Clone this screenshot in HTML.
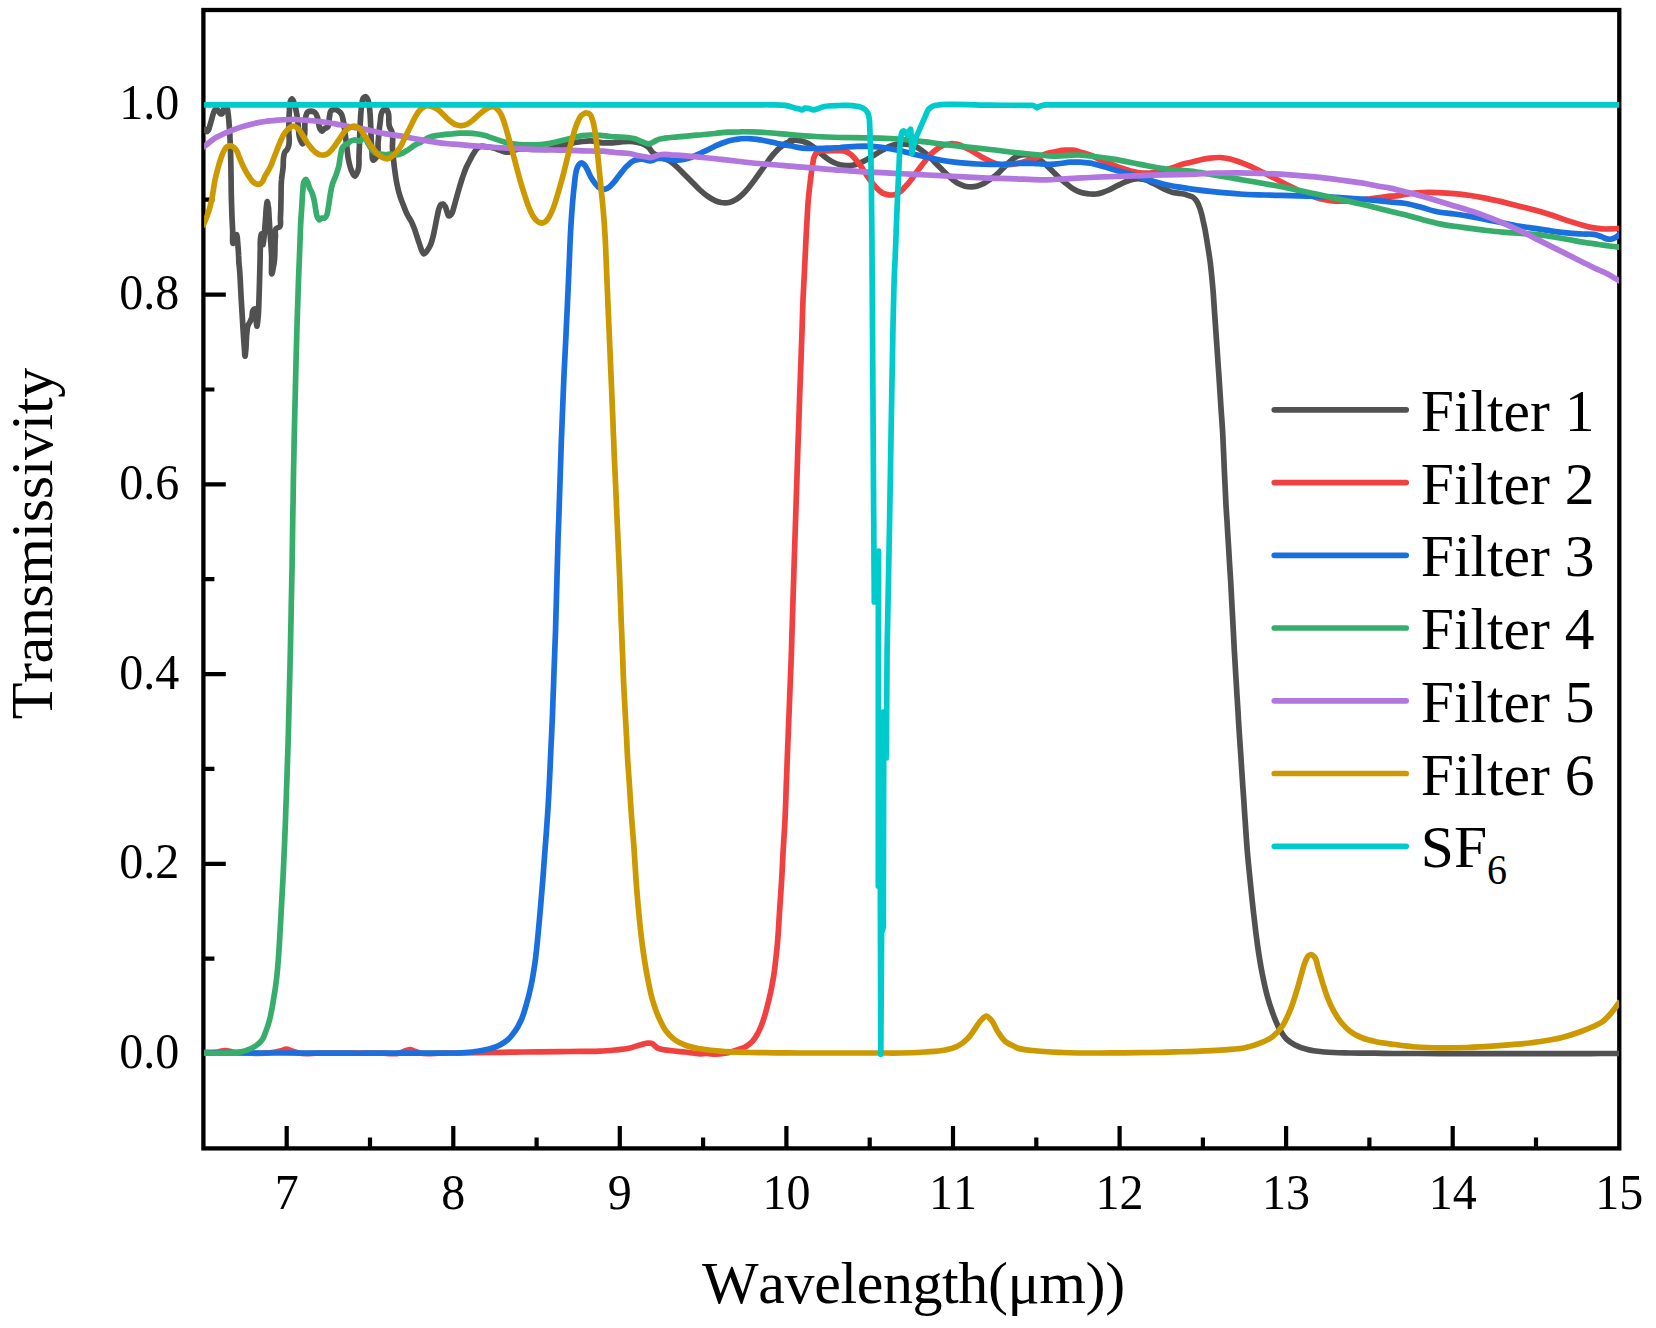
<!DOCTYPE html>
<html lang="en"><head><meta charset="utf-8"><title>Filter transmissivity</title>
<style>
html,body{margin:0;padding:0;background:#fff;}
body{width:1656px;height:1328px;overflow:hidden;}
svg{display:block;}
text{font-family:"Liberation Serif","Times New Roman",Times,serif;fill:#000;font-kerning:none;font-variant-ligatures:none;}
.tk{font-size:48px;}
.ti{font-size:60px;letter-spacing:-0.4px;}
.lt{font-size:59.6px;}
.cv{fill:none;stroke-width:5.7;stroke-linejoin:round;stroke-linecap:butt;}
.lg{fill:none;stroke-width:5.7;stroke-linecap:round;}
.ax{stroke:#000;stroke-width:4.3;fill:none;stroke-linecap:butt;}
</style></head><body>
<svg width="1656" height="1328" viewBox="0 0 1656 1328">
<rect width="1656" height="1328" fill="#fff"/>
<defs><clipPath id="plot"><rect x="204.1" y="10" width="1414.9" height="1138.4"/></clipPath></defs>
<rect class="ax" x="203.4" y="10" width="1415.9" height="1138.4"/>
<path class="ax" style="stroke-width:4.2" d="M203.4 1053.5H225.8M203.4 863.8H225.8M203.4 674.1H225.8M203.4 484.3H225.8M203.4 294.6H225.8M203.4 104.9H225.8M203.4 958.7H214.4M203.4 768.9H214.4M203.4 579.2H214.4M203.4 389.5H214.4M203.4 199.7H214.4M286.7 1148.4V1126M453.3 1148.4V1126M619.8 1148.4V1126M786.4 1148.4V1126M953 1148.4V1126M1119.6 1148.4V1126M1286.1 1148.4V1126M1452.7 1148.4V1126M370 1148.4V1137.5M536.6 1148.4V1137.5M703.1 1148.4V1137.5M869.7 1148.4V1137.5M1036.3 1148.4V1137.5M1202.9 1148.4V1137.5M1369.4 1148.4V1137.5M1536 1148.4V1137.5"/>
<g clip-path="url(#plot)">
<path class="cv" stroke="#515151" d="M203.5 127.7C204.2 128.6 204.7 129.7 205.5 130.5C206 130.9 206.5 131.6 207 131.6C207.5 131.6 208.1 130.6 208.5 130C209.1 129.1 209.2 128 209.5 127C210.2 124.7 210.8 122.3 211.5 120C212.2 117.7 212.6 115.2 213.5 113C214 111.8 214.3 110.4 215.2 109.6C215.6 109.3 216.1 108.8 216.5 108.8C217.2 108.7 217.7 110.3 218.3 111C219 111.8 219.3 113.1 220.2 113.6C220.6 113.8 221.2 114 221.6 114C222.5 113.9 222.6 112 223 111C223.5 109.8 223.7 108.5 224.4 107.5C224.8 107 225.4 106 225.8 106C226.2 106 226.7 107.2 227 107.8C227.8 109.3 227.7 111.3 228 113C228.6 117 228.9 121 229.2 125C229.7 130.8 229.9 136.7 230.2 142.5C230.5 148.9 230.7 155.2 230.8 161.6C230.9 167.7 231 173.9 231.1 180C231.2 186.3 231.2 192.6 231.4 198.8C231.6 205.1 231.8 211.4 232 217.7C232.2 222.3 232.5 226.9 232.7 231.5C232.8 235.5 232.2 243.7 233.2 243.4C233.9 243.2 236 234.3 236.7 234.6C237.4 234.9 237.4 240.1 237.7 242.8C238.1 247 238.4 251.2 238.6 255.4C238.8 257.9 238.7 260.5 238.9 263C239.1 264.5 239.2 266 239.4 267.5C240.3 277.9 240.6 288.3 241.2 298.8C241.9 309.2 242.5 319.6 243.1 330C243.5 336.3 243.9 342.5 244.4 348.8C244.6 351.3 244.8 356.2 245 356.2C245.3 356.3 245.6 351.3 245.9 348.8C246.4 343.4 246.2 337.9 246.9 332.5C247.2 330 247.1 327.3 248.1 325C248.6 323.9 249.4 322.9 250 321.9C250.7 320.5 251.4 319 251.9 317.5C252.6 315.3 251.6 312.5 252.9 310.6C253.3 310 253.9 309.3 254.4 309C256 307.9 255.6 314.6 256 317.5C256.4 320.4 256.5 326.2 256.9 326.2C257.2 326.3 257.8 320.4 258.1 317.5C258.6 313.4 258.6 309.2 258.8 305C259 298.8 259.2 292.5 259.4 286.2C259.6 278.5 259.8 270.8 260 263C260.1 258.4 260.1 253.7 260.3 249.1C260.4 244.9 259.9 240.6 260.8 236.5C261 235.7 261.2 234.6 261.4 234.1C262.3 232 262.5 245.1 263 244.7C263.4 244.3 263.7 239.2 264.1 236.5C264.8 230.3 265.1 224 265.6 217.7C266 213.5 265.9 209.3 266.6 205.1C266.8 204 266.9 201.7 267.2 201.7C267.5 201.6 267.9 204 268.1 205.1C269.1 209.2 268.8 213.5 269.1 217.7C269.5 224 269.9 230.2 270.3 236.5C270.8 242.8 271.3 249.1 271.6 255.4C271.8 261.5 271.1 275.2 271.9 273.8C272.4 272.9 273.5 266.6 274.1 263C275.5 254.3 274.5 245.3 275.4 236.5C275.6 233.8 274.4 229.9 276.3 228.4C277.1 227.7 278.6 227.6 279.4 227C281.6 225.2 280.1 220.8 280.4 217.7C280.9 211.4 280.8 205.1 281 198.8C281.2 192.6 280.9 186.2 281.5 180C281.8 175.8 282.7 171.7 283.1 167.5C283.5 163.3 282.9 159 284 155C284.3 153.9 284.5 152.8 285 151.9C285.5 151.1 286.3 150.5 286.9 149.8C287.4 149.1 287.8 148.3 288.1 147.5C290.6 142.3 288.5 135.8 288.8 130C289 123.8 288.8 117.5 289.4 111.2C289.7 107.7 288.9 103.7 290.6 100.6C291 100 291.5 98.8 291.9 98.8C292.4 98.6 293.1 100.4 293.5 101.2C294.3 102.8 294.5 104.6 295 106.2C295.5 107.9 295.9 109.6 296.2 111.2C297.2 115.4 297.5 119.6 298.1 123.8C298.8 128.7 298.2 134.1 300 138.8C300.7 140.5 301.8 143.5 302.5 143.8C303.4 144 303.9 138.8 304.4 136.2C305.6 130.1 303.9 123.5 305.6 117.5C306.1 115.7 306.2 113.3 307.5 112.2C308.4 111.6 310 111.2 311.2 111.2C312.5 111.3 314 111.8 315 112.5C316.4 113.5 316.8 115.8 317.5 117.5C318.9 121 318 125.5 320 128.8C320.5 129.6 321.2 131.2 321.9 131.2C322.6 131.4 323.4 129.4 324.4 128.8C325.3 128.1 326.7 127.9 327.5 127.2C329.9 125.3 328.6 120.7 329.4 117.5C329.9 115.2 329.6 111.9 331.2 110.6C332.2 109.9 333.8 109.3 335 109.4C336.3 109.5 337.6 110.4 338.8 111.2C339.7 111.9 340.6 112.8 341.2 113.8C342.5 115.5 342.6 117.9 343.1 120C344.1 124.1 344.4 128.3 345 132.5C345.7 137.5 346.2 142.5 346.9 147.5C347.5 152.1 347.7 156.7 348.8 161.2C349.4 164.2 350 167.3 351.2 170C352.2 172.2 353.8 176.5 355 176.2C355.9 176 357 173 357.8 171.2C359.8 166.3 358.7 160.4 359 155C359.7 144.6 359.5 134.1 360.2 123.8C360.7 117.5 360.6 111.1 361.9 105C362.4 102.5 361.8 98.9 363.8 97.5C364.3 97.1 365.1 96.6 365.6 96.6C366.4 96.7 367 98 367.5 98.8C369.1 101.2 368.9 104.6 369.4 107.5C370.3 112.8 370.3 118.3 370.6 123.8C371.2 132.1 370.8 140.5 371.9 148.8C372.4 152.5 371.6 161.2 373.8 160C374.4 159.6 375.5 158.4 376.2 157.5C379.3 153.7 377.6 147.5 378.1 142.5C378.8 136.3 379 129.9 380 123.8C380.7 119.6 380.1 114.6 382.5 111.2C383.3 110.1 384.7 108.1 385.6 108.1C386.6 108.2 387.5 111 388.1 112.5C390.1 117 387.5 123.1 389.8 127.5C390.2 128.4 390.8 129.1 391.2 130C394.1 135.5 392 142.5 392.5 148.8C393 155 393.6 161.3 394.4 167.5C395.1 172.9 395.8 178.4 396.9 183.8C397.7 188 398.7 192.2 400 196.2C401.1 199.6 402.4 202.9 403.8 206.2C404.9 209.2 406 212.2 407.5 215C408.6 217.1 410.1 219.1 411.2 221.2C412.5 223.7 413.4 226.2 414.4 228.8C415.3 231.2 416 233.8 416.9 236.2C417.7 238.8 418.4 241.3 419.4 243.8C420.7 247.2 421.9 253.6 423.8 253.8C425.5 253.8 428.5 248.9 430 246C431.2 243.8 431.8 241.2 432.5 238.8C433.6 235.1 434.2 231.3 435 227.5C435.9 223.3 436.5 219.1 437.5 215C438.1 212.5 438.3 209.8 439.4 207.5C439.9 206.4 440.2 204.8 441.2 204.4C441.8 204.1 442.6 204 443.1 204.1C443.9 204.3 444.5 205.5 445 206.2C446 207.7 446.2 209.6 446.9 211.2C447.5 212.9 447.8 216.1 449 216C449.6 215.9 450.6 215 451.2 214.4C452.9 212.7 453 209.8 453.8 207.5C454.7 204.6 455.4 201.7 456.2 198.8C457.3 195 458.3 191.2 459.4 187.5C460.4 184.2 461.4 180.8 462.5 177.5C463.7 174.1 464.8 170.7 466.2 167.5C467.4 164.9 468.7 162.5 470 160C471.2 157.7 472.3 155.3 473.8 153.1C474.9 151.4 475.9 149.4 477.5 148.1C478.6 147.3 479.9 146.5 481.2 146.2C482.4 146 483.8 146.5 485 146.6C486.7 146.8 488.3 147 490 147.2C491.7 147.5 493.4 147.9 495 148.4C496.3 148.8 497.5 149.3 498.8 149.8C500 150.2 501.2 150.8 502.5 151.2C503.7 151.7 505 152.2 506.2 152.2C507.5 152.3 508.8 152 510 151.8C511.7 151.4 513.3 150.5 515 150C516.6 149.6 518.3 149.2 520 149C522.5 148.7 525 149.1 527.5 149.1C531.7 149.2 535.8 149.6 540 149.5C543.3 149.5 546.8 149.7 550 149C552.1 148.5 554.2 147.5 556.2 146.9C557.5 146.5 558.7 146.1 560 145.8C562.5 145.1 565 144.9 567.5 144.4C570 143.8 572.5 143 575 142.5C577.5 142 580 141.8 582.5 141.5C585 141.2 587.5 140.9 590 140.9C594.2 140.9 598.3 142.5 602.5 142.8C605.8 143 609.2 142.9 612.5 142.8C615.4 142.6 618.3 142.1 621.2 141.9C624.2 141.7 627.1 141.4 630 141.5C632.5 141.6 635 142 637.5 142.5C639.6 143 641.8 143.5 643.8 144.4C645.5 145.2 647.3 146.2 648.8 147.5C650.3 148.9 651 151.1 652.5 152.5C654.6 154.5 657.4 155.5 660 156.9C663.2 158.5 667 159.3 670 161.2C672.7 163 675.1 165.3 677.5 167.5C680.1 169.9 682.5 172.5 685 175C687.5 177.5 690 180 692.5 182.5C695 185 697.4 187.6 700 190C702.4 192.2 704.8 194.4 707.5 196.2C709.9 197.9 712.3 199.5 715 200.6C717 201.5 719.1 202.1 721.2 202.5C722.5 202.7 723.8 202.9 725 202.9C726.7 202.9 728.4 202.7 730 202.2C732.2 201.7 734.3 200.6 736.2 199.4C738.5 198 740.6 196.2 742.5 194.4C744.8 192.3 746.8 189.9 748.8 187.5C750.9 184.9 753 182.1 755 179.4C757.1 176.5 759.2 173.5 761.2 170.6C763.3 167.7 765.4 164.8 767.5 161.9C769.5 159.1 771.5 156.3 773.8 153.8C775.7 151.6 777.7 149.4 780 147.5C782 145.9 784 144.2 786.2 143.1C788.2 142.2 793.5 141.4 792.5 141C792.1 140.8 790.4 140.7 790 140.6C789.1 140.4 794.2 140.1 796.2 140.2C798.3 140.4 800.5 140.7 802.5 141.2C804.7 141.8 806.8 142.7 808.8 143.8C811 144.9 813 146.6 815 148.1C817.2 149.9 819.1 151.9 821.2 153.8C823.3 155.5 825.3 157.2 827.5 158.8C829.5 160.1 831.6 161.5 833.8 162.5C835.7 163.4 837.9 164.2 840 164.8C842 165.2 844.2 165.5 846.2 165.6C848.3 165.7 850.5 165.6 852.5 165.2C854.6 164.9 856.7 164.2 858.8 163.5C860.9 162.7 863 161.7 865 160.6C867.1 159.5 869.2 158.1 871.2 156.9C873.3 155.6 875.4 154.4 877.5 153.1C879.6 151.9 881.6 150.5 883.8 149.4C885.8 148.3 887.8 147.1 890 146.2C892 145.5 894.1 144.8 896.2 144.4C898.3 144 900.4 143.8 902.5 143.8C904.6 143.8 906.7 144 908.8 144.4C910.9 144.8 913 145.4 915 146.2C917.2 147.2 919.3 148.6 921.2 150C923.4 151.5 925.5 153.2 927.5 155C929.7 157 931.7 159.2 933.8 161.2C935.8 163.3 937.9 165.4 940 167.5C942.1 169.6 944.1 171.7 946.2 173.8C948.3 175.7 950.3 177.6 952.5 179.4C954.5 180.9 956.5 182.6 958.8 183.8C960.7 184.8 962.8 185.7 965 186.2C967 186.7 969.2 186.9 971.2 186.9C973.3 186.8 975.5 186.5 977.5 186C979.7 185.4 981.8 184.5 983.8 183.5C986 182.4 987.9 180.8 990 179.4C992.1 177.9 994.3 176.6 996.2 175C998.5 173.1 1000.4 170.8 1002.5 168.8C1004.6 166.7 1006.6 164.5 1008.8 162.5C1010.7 160.7 1012.7 158.8 1015 157.5C1016.9 156.4 1019.1 155.4 1021.2 155C1023.3 154.6 1025.4 154.6 1027.5 154.8C1029.6 155 1031.8 155.5 1033.8 156.2C1036 157.1 1038 158.6 1040 160C1042.2 161.5 1044.3 163.2 1046.2 165C1048.4 167 1050.4 169.2 1052.5 171.2C1054.6 173.3 1056.6 175.5 1058.8 177.5C1060.7 179.3 1062.9 180.8 1065 182.5C1067.1 184.2 1069.1 186 1071.2 187.5C1073.2 188.9 1075.3 190.3 1077.5 191.2C1079.5 192.1 1081.6 192.7 1083.8 193.1C1085.8 193.6 1087.9 193.9 1090 194C1092.1 194.1 1094.2 194.2 1096.2 194C1098.4 193.8 1100.5 193.1 1102.5 192.5C1104.6 191.8 1106.7 190.9 1108.8 190C1110.9 189 1112.9 187.9 1115 186.9C1117.1 185.8 1119.1 184.7 1121.2 183.8C1123.3 182.8 1125.4 181.8 1127.5 181C1129.5 180.3 1131.6 179.5 1133.8 179.1C1135.8 178.8 1137.9 178.6 1140 178.8C1142.1 178.9 1144.3 179.3 1146.2 180C1148.4 180.7 1150.4 182.1 1152.5 183.1C1154.6 184.2 1156.7 185.2 1158.8 186.2C1160.8 187.3 1162.9 188.4 1165 189.4C1167 190.3 1169.1 191.2 1171.2 191.9C1173.3 192.5 1175.4 192.8 1177.5 193.1C1179.6 193.5 1181.7 193.5 1183.8 194C1185.4 194.4 1187.1 195.1 1188.8 195.6C1190 196 1191.4 196.2 1192.5 196.9C1193.7 197.6 1194.7 198.7 1195.6 199.8C1196.8 201.1 1197.6 202.8 1198.4 204.4C1199.6 206.9 1200.4 209.7 1201.2 212.5C1202.1 215.4 1202.6 218.3 1203.2 221.2C1203.9 224.2 1204.6 227.1 1205.1 230C1205.8 233.7 1206.4 237.5 1207 241.2C1208.1 248.2 1209.3 255.1 1210.2 262C1211.4 271.3 1212.2 280.7 1213 290C1213.6 297.2 1214 304.4 1214.5 311.7C1215 318.9 1215.5 326.1 1216 333.3C1216.5 340.6 1217 347.8 1217.5 355C1217.9 361.2 1218.3 367.5 1218.8 373.8C1219.2 380 1219.6 386.2 1220 392.5C1220.4 398.8 1220.8 405 1221.2 411.2C1221.7 417.5 1222.1 423.7 1222.5 430C1222.9 436.2 1223.1 442.5 1223.4 448.8C1223.7 455 1224 461.2 1224.2 467.5C1224.5 473.8 1224.8 480 1225.1 486.2C1225.4 492.5 1225.7 498.8 1226 505C1226.3 511.3 1226.8 517.5 1227.2 523.8C1227.5 530 1227.9 536.2 1228.3 542.5C1228.7 548.8 1229.1 555 1229.4 561.2C1229.8 567.5 1230.2 573.7 1230.6 580C1231 586.2 1231.3 592.5 1231.6 598.8C1231.9 605 1232.3 611.2 1232.6 617.5C1232.9 623.8 1233.3 630 1233.6 636.2C1233.9 642.5 1234.2 648.8 1234.6 655C1235 661.3 1235.3 667.5 1235.7 673.8C1236.1 680 1236.5 686.2 1236.8 692.5C1237.2 698.8 1237.6 705 1238 711.2C1238.3 717.5 1238.7 723.8 1239.1 730C1239.6 738.3 1240.2 746.7 1240.8 755C1241.3 763.3 1241.8 771.7 1242.4 780C1242.8 786.7 1243.3 793.3 1243.8 800C1244.2 806.7 1244.6 813.3 1245.1 820C1245.8 830 1246.4 840 1247.2 850C1248.2 861.7 1249.4 873.3 1250.6 885C1251.6 895 1252.6 905 1253.8 915C1254.9 925 1256.1 935 1257.5 945C1258.8 954.2 1260.2 963.4 1262 972.5C1263.5 980 1265 987.6 1267 995C1268.6 1000.9 1270.4 1006.8 1272.5 1012.5C1274.4 1017.6 1276.2 1022.8 1278.8 1027.5C1280.9 1031.4 1283.1 1035.6 1286.2 1038.8C1288.8 1041.2 1291.9 1043.3 1295 1045C1298.9 1047.1 1303.2 1048.4 1307.5 1049.5C1313.2 1051 1319.1 1051.4 1325 1052C1333.3 1052.8 1341.7 1052.8 1350 1053C1358.3 1053.2 1366.7 1053.2 1375 1053.2C1383.3 1053.3 1391.7 1053.5 1400 1053.5C1406.7 1053.5 1413.3 1053.5 1420 1053.5C1426.7 1053.6 1433.3 1053.6 1440 1053.6C1446.7 1053.6 1453.3 1053.6 1460 1053.6C1466.7 1053.6 1473.3 1053.6 1480 1053.7C1486.7 1053.7 1493.3 1053.7 1500 1053.7C1506.7 1053.7 1513.3 1053.7 1520 1053.7C1526.7 1053.7 1533.3 1053.6 1540 1053.6C1546.7 1053.6 1553.3 1053.6 1560 1053.6C1566.7 1053.6 1573.3 1053.6 1580 1053.6C1586.7 1053.6 1593.3 1053.5 1600 1053.5C1606.7 1053.5 1613.3 1053.5 1620 1053.5"/>
<path class="cv" stroke="#F14040" d="M202.5 1052.5C207.5 1052.3 212.6 1052.7 217.5 1052C220 1051.6 222.5 1050.5 225 1050.5C227.7 1050.5 230.3 1051.6 233 1052C237 1052.6 241 1052.8 245 1053C254.6 1053.5 264.3 1053.8 273.8 1052.2C276.3 1051.8 278.8 1051.5 281.2 1050.8C282.9 1050.3 284.6 1049 286.2 1049C287.9 1049 289.6 1050.2 291.2 1050.8C293.7 1051.6 296.2 1052.5 298.8 1053C305.3 1054.4 312.2 1053 319 1053C325.8 1053 332.5 1053 339.2 1053C346 1053 352.8 1053 359.5 1053C366.2 1053 373 1053 379.8 1053C386.5 1053 393.6 1054.9 400 1053C402.1 1052.4 404.1 1051.2 406.2 1050.5C407.5 1050.1 408.8 1049.4 410 1049.5C411.3 1049.6 412.5 1050.5 413.8 1051C415.8 1051.8 417.9 1052.5 420 1053C427.2 1054.8 435 1053 442.5 1053C450 1053 457.5 1053.1 465 1053C473.3 1052.9 481.7 1052.6 490 1052.5C498.3 1052.4 506.7 1052.2 515 1052.1C523.3 1052 531.7 1051.8 540 1051.8C546.7 1051.7 553.3 1051.6 560 1051.6C566.7 1051.5 573.3 1051.5 580 1051.4C586.7 1051.4 593.3 1051.6 600 1051.2C605 1051 610 1050.5 615 1050C620 1049.5 625.1 1049.1 630 1048C633.4 1047.2 636.6 1045.9 640 1045C642.5 1044.4 645 1043.4 647.5 1043.2C648.7 1043.2 650.1 1043 651.2 1043.2C653.7 1043.8 655.2 1046.8 657.5 1048C661.2 1049.9 665.8 1049.9 670 1050.5C675 1051.3 680 1051.5 685 1052C690 1052.5 695 1053.7 700 1053.8C702.1 1053.8 704.2 1053.5 706.3 1053.5C709.4 1053.5 712.6 1054.1 715.7 1054.1C718.8 1054.1 722 1053.7 725.1 1053.2C728.1 1052.7 731 1051.8 733.9 1051C736.4 1050.3 739 1049.5 741.5 1048.5C743.6 1047.6 745.8 1046.6 747.7 1045.3C749.5 1044.1 751.2 1042.5 752.8 1040.9C754.5 1039 755.9 1036.9 757.1 1034.7C758.9 1031.7 760.2 1028.4 761.5 1025.2C763.1 1021.1 764.4 1016.9 765.6 1012.7C766.8 1008.5 767.8 1004.3 768.8 1000.1C769.8 995.9 770.8 991.8 771.6 987.6C772.4 983.4 773.2 979.2 773.8 975C774.6 970 775.1 965 775.7 960C776.3 955 776.8 950 777.3 945C778.3 934.2 778.8 923.3 779.5 912.5C780.2 902.5 780.9 892.5 781.5 882.5C782.2 871.7 782.6 860.8 783.2 850C783.8 840 784.5 830 785 820C785.3 813.3 785.5 806.7 785.8 800C786 793.3 786.2 786.7 786.5 780C786.8 773.3 787 766.7 787.2 760C787.5 753.3 787.7 746.7 788 740C788.3 733.2 788.5 726.3 788.8 719.5C789.1 712.7 789.4 705.8 789.6 699C789.9 692.2 790.2 685.3 790.4 678.5C790.7 671.7 791 664.8 791.2 658C791.5 651.6 791.6 645.2 791.8 638.8C792 632.4 792.2 626 792.4 619.6C792.6 613.2 792.8 606.8 793 600.4C793.2 594 793.4 587.6 793.6 581.2C793.8 574.8 794 568.4 794.2 562C794.4 554.8 794.7 547.7 794.9 540.5C795.1 533.3 795.4 526.2 795.6 519C795.8 511.8 796.1 504.7 796.3 497.5C796.5 490.3 796.8 483.2 797 476C797.2 469.7 797.4 463.5 797.6 457.2C797.8 451 798 444.8 798.2 438.5C798.5 432.2 798.7 426 798.9 419.8C799.1 413.5 799.3 407.2 799.5 401C799.7 394.7 799.9 388.5 800.2 382.2C800.4 376 800.6 369.8 800.9 363.5C801.1 357.2 801.3 351 801.5 344.8C801.8 338.5 802 332.3 802.2 326C802.5 316.5 802.7 307 803.1 297.5C803.5 289.2 804 280.8 804.4 272.5C804.8 264.2 805.2 255.8 805.6 247.5C806 239.2 806.4 230.8 806.9 222.5C807.4 214.2 807.7 205.8 808.5 197.5C809.1 191.2 809.8 185 810.6 178.8C811.3 173.7 811.9 168.7 812.8 163.8C813.3 161.2 813.3 158.5 814.4 156.2C815 154.9 815.7 153.4 816.9 152.5C817.7 151.8 818.9 151.3 820 151C822.3 150.2 825 150.9 827.5 150.9C829.6 150.8 831.7 150.7 833.8 150.6C835.8 150.6 837.9 150.5 840 150.6C841.7 150.7 843.4 150.8 845 151.2C846.8 151.8 848.5 152.7 850 153.8C851.9 155.1 853.4 157 855 158.8C856.8 160.7 858.4 162.9 860 165C861.8 167.4 863.3 170 865 172.5C866.7 175 868.2 177.6 870 180C871.6 182.1 873.2 184.3 875 186.2C876.6 188 878.1 189.9 880 191.2C881.5 192.4 883.2 193.4 885 194C886.6 194.6 888.3 194.9 890 195C891.7 195.1 893.4 194.8 895 194.4C896.8 193.9 898.5 192.9 900 191.9C901.9 190.6 903.4 188.6 905 186.9C906.7 185.1 908.4 183.2 910 181.2C911.8 179.1 913.3 176.7 915 174.4C916.7 172.1 918.3 169.8 920 167.5C921.6 165.4 923.3 163.3 925 161.2C926.7 159.2 928.2 156.9 930 155C931.6 153.4 933.2 151.8 935 150.4C936.6 149.1 938.2 148 940 147C941.6 146.1 943.3 145.3 945 144.8C946.6 144.2 948.3 143.9 950 143.8C951.2 143.6 952.5 143.6 953.8 143.8C955.4 143.9 957.1 144.3 958.8 144.8C960.9 145.4 962.9 146.5 965 147.5C967.1 148.5 969.2 149.5 971.2 150.6C973.4 151.8 975.4 153.1 977.5 154.4C979.6 155.6 981.6 157 983.8 158.1C985.8 159.2 987.9 160.3 990 161.2C992 162.2 994.1 163.1 996.2 163.8C998.3 164.3 1000.4 164.8 1002.5 165C1006.6 165.4 1010.9 164.7 1015 164C1019.2 163.3 1023.4 161.9 1027.5 160.6C1031.7 159.3 1035.8 157.7 1040 156.2C1042.9 155.2 1045.8 154 1048.8 153.1C1051.6 152.3 1054.6 151.7 1057.5 151.2C1060 150.8 1062.5 150.4 1065 150.2C1067.5 150.1 1070 150 1072.5 150.2C1075 150.5 1077.5 151.2 1080 151.9C1083.4 152.7 1086.7 153.8 1090 155C1094.3 156.6 1098.3 158.8 1102.5 160.6C1106.6 162.4 1110.8 164.1 1115 165.6C1119.1 167.2 1123.3 168.8 1127.5 170C1130.8 171 1134.1 172 1137.5 172.5C1140.4 172.9 1143.3 173.2 1146.2 173.1C1149.2 173.1 1152.1 172.7 1155 172.2C1158.4 171.7 1161.7 170.9 1165 170C1168.4 169.1 1171.7 168 1175 166.9C1178.3 165.8 1181.6 164.3 1185 163.5C1186.6 163.1 1188.3 162.9 1190 162.5C1193.4 161.8 1196.6 160.7 1200 160C1203.3 159.3 1206.6 158.5 1210 158.1C1213.3 157.7 1216.7 157.4 1220 157.5C1223.3 157.6 1226.7 158.2 1230 159C1233.4 159.8 1236.7 161.1 1240 162.2C1243.4 163.5 1246.7 164.8 1250 166.2C1253.4 167.7 1256.7 169.4 1260 171C1263.3 172.6 1266.7 174.3 1270 176C1273.4 177.7 1276.6 179.5 1280 181.2C1283.3 182.9 1286.7 184.6 1290 186.2C1293.3 187.9 1296.6 189.7 1300 191.2C1303.3 192.8 1306.6 194.4 1310 195.6C1313.3 196.8 1316.6 197.9 1320 198.8C1323.3 199.6 1326.6 200.2 1330 200.6C1333.3 201 1336.7 201.2 1340 201.2C1343.3 201.3 1346.7 201.2 1350 201C1353.3 200.8 1356.7 200.4 1360 200C1363.3 199.6 1366.7 199.2 1370 198.8C1373.3 198.3 1376.7 197.9 1380 197.5C1383.3 197.1 1386.7 196.6 1390 196.2C1392.1 196.1 1394.3 196 1396.4 195.8C1399.7 195.5 1402.8 194.7 1406.1 194.2C1411.4 193.5 1416.8 192.9 1422.1 192.6C1427.5 192.3 1432.8 192.4 1438.2 192.6C1443.5 192.8 1448.9 193.1 1454.3 193.6C1459.6 194 1465 194.7 1470.3 195.5C1475.7 196.3 1481 197.3 1486.4 198.4C1491.8 199.5 1497.1 200.7 1502.4 201.9C1507.8 203.2 1513.1 204.6 1518.5 205.9C1523.9 207.3 1529.2 208.5 1534.6 210C1540 211.4 1545.3 213 1550.6 214.8C1556 216.5 1561.3 218.6 1566.7 220.4C1572 222.1 1577.4 223.8 1582.8 225.2C1585.9 226.1 1589.1 227 1592.4 227.6C1595.6 228.2 1598.8 228.7 1602 228.9C1605.2 229.1 1608.5 229 1611.7 228.9C1614.9 228.8 1618.1 228.5 1621.3 228.3"/>
<path class="cv" stroke="#1A6FDF" d="M202.5 1053C209.4 1053 216.4 1053 223.3 1053C230.3 1053 237.2 1053 244.2 1053C251.1 1053 258.1 1053 265 1053C271.7 1053 278.3 1053 285 1053C291.7 1053.1 298.3 1053.1 305 1053.1C311.7 1053.1 318.3 1053.1 325 1053.2C331.7 1053.2 338.3 1053.2 345 1053.2C351.7 1053.2 358.3 1053.3 365 1053.2C372.3 1053.2 379.6 1053.2 386.9 1053.2C394.2 1053.2 401.5 1053.1 408.8 1053.1C416 1053.1 423.3 1053.1 430.6 1053.1C437.9 1053 445.2 1053.2 452.5 1053C456.7 1052.9 460.8 1052.8 465 1052.5C469.2 1052.2 473.4 1051.9 477.5 1051.2C481.7 1050.6 485.9 1049.9 490 1048.8C493.4 1047.8 496.9 1046.6 500 1045C502.6 1043.6 505.2 1041.9 507.5 1040C510.4 1037.5 512.8 1034.4 515 1031.2C517.5 1027.8 519.5 1023.9 521.2 1020C523.4 1015.2 524.8 1010 526.2 1005C528.2 998.4 529.8 991.7 531.2 985C532.8 977.6 533.9 970 535 962.5C536.3 953.4 537.1 944.2 538 935C538.9 925.8 539.7 916.7 540.5 907.5C541.3 898.3 542 889.2 542.8 880C543.5 870 544.2 860 545 850C545.8 840 546.6 830 547.2 820C547.9 810.9 548.4 801.7 548.9 792.6C549.3 784.9 549.6 777.3 550 769.6C550.3 762 550.7 754.3 551 746.7C551.4 739 551.8 731.4 552.1 723.7C552.4 717.6 552.6 711.4 552.8 705.3C553 699.2 553.2 693.1 553.5 686.9C553.7 680.8 553.9 674.7 554.1 668.6C554.4 662.4 554.6 656.3 554.8 650.2C555 644.1 555.3 637.9 555.5 631.8C555.7 625.7 555.8 619.6 556 613.4C556.2 607.3 556.4 601.2 556.5 595.1C556.7 589 556.9 582.8 557 576.7C557.2 570.6 557.4 564.5 557.5 558.4C557.7 552.2 557.9 546.1 558 540C558.2 533.9 558.5 527.8 558.7 521.7C558.9 515.6 559.1 509.4 559.3 503.3C559.5 497.2 559.7 491.1 559.9 485C560.1 478.9 560.3 472.8 560.5 466.7C560.7 460.6 560.9 454.4 561.1 448.3C561.3 442.2 561.5 436.1 561.8 430C562.1 421.7 562.4 413.3 562.8 405C563.1 396.7 563.4 388.3 563.8 380C564.1 371.7 564.6 363.3 565 355C565.4 346.7 565.9 338.3 566.2 330C566.6 321.7 567 313.3 567.4 305C567.8 296.7 568.1 288.3 568.5 280C568.8 272.2 569.2 264.3 569.5 256.5C569.8 248.7 570.1 240.8 570.5 233C570.9 226.3 571.3 219.5 571.8 212.8C572.2 207.8 572.5 202.7 573 197.7C573.4 193.5 573.8 189.4 574.3 185.2C574.7 181.8 574.9 178.4 575.5 175.1C575.9 172.8 576.2 170.4 577.1 168.2C577.7 166.8 578.2 165 579.3 164.1C580 163.5 581 162.9 581.8 162.9C582.8 162.9 583.8 164.3 584.6 165.1C586.1 166.6 586.8 168.8 587.8 170.7C589 173 589.9 175.4 591.2 177.6C592.3 179.6 593.6 181.5 595 183.3C596.1 184.6 597.1 186.1 598.5 187.1C599.4 187.8 600.5 188.5 601.6 188.8C602.7 189.1 603.9 189.3 605 189.1C606.5 188.9 607.9 187.9 609.1 187.1C610.8 186 612.1 184.2 613.5 182.7C615.1 180.9 616.4 178.9 617.9 177C619.4 175.1 620.8 173.2 622.3 171.4C623.7 169.7 625.1 167.9 626.7 166.3C628.8 164.2 631 161.8 633.8 160.6C635.3 160 637.1 159.6 638.8 159.4C640.4 159.2 642.1 159.2 643.8 159.4C645.4 159.6 647.1 160.4 648.8 160.6C650 160.8 651.3 160.9 652.5 160.6C653.8 160.3 654.9 159.2 656.2 158.8C657.4 158.4 658.8 158.2 660 158.1C661.7 158.1 663.3 158.7 665 159C667.1 159.4 669.2 159.8 671.2 160C673.3 160.2 675.4 160.4 677.5 160.2C679.6 160.1 681.7 159.8 683.8 159.4C685.9 159 688 158.4 690 157.8C692.1 157 694.2 155.9 696.2 155C698.3 154.1 700.4 153.2 702.5 152.2C704.6 151.3 706.7 150.4 708.8 149.4C710.8 148.4 712.9 147.2 715 146.2C717.1 145.3 719.1 144.3 721.2 143.5C723.3 142.7 725.4 141.9 727.5 141.2C729.6 140.6 731.7 140.2 733.8 139.8C735.8 139.3 737.9 139 740 138.8C742.1 138.5 744.2 138.5 746.2 138.5C748.3 138.5 750.4 138.6 752.5 138.8C754.6 138.9 756.7 139.3 758.8 139.6C760.8 140 762.9 140.3 765 140.8C767.1 141.2 769.2 141.7 771.2 142.1C773.3 142.6 775.4 143.1 777.5 143.5C779.6 143.9 781.7 144.4 783.8 144.8C785.8 145.1 787.9 145.4 790 145.8C794.2 146.5 798.3 147.7 802.5 148.1C806.6 148.6 810.8 148.5 815 148.5C819.2 148.5 823.3 148.3 827.5 148.1C831.7 148 835.8 147.7 840 147.5C844.2 147.2 848.3 146.8 852.5 146.6C856.7 146.4 860.8 146.2 865 146.2C869.2 146.3 873.4 146.5 877.5 146.9C881.7 147.3 885.9 148 890 148.8C894.2 149.5 898.4 150.3 902.5 151.2C906.7 152.2 910.8 153.4 915 154.4C919.2 155.4 923.3 156.3 927.5 157.2C931.7 158.2 935.8 159.2 940 160C944.1 160.8 948.3 161.4 952.5 161.9C956.7 162.4 960.8 162.8 965 163.1C969.2 163.5 973.3 163.8 977.5 164C981.7 164.2 985.8 164.3 990 164.4C994.2 164.4 998.3 164.5 1002.5 164.4C1006.7 164.2 1010.8 163.7 1015 163.5C1019.2 163.3 1023.3 163.1 1027.5 163.1C1031.7 163.2 1035.8 163.5 1040 163.8C1043.3 163.9 1046.7 164.4 1050 164.4C1053.3 164.3 1056.7 163.9 1060 163.5C1063.3 163.1 1066.7 162.5 1070 162.2C1073.3 162 1076.7 162 1080 162.1C1083.3 162.3 1086.7 162.6 1090 163.1C1094.2 163.8 1098.4 165.1 1102.5 166.2C1106.7 167.4 1110.8 168.8 1115 170C1119.2 171.2 1123.3 172.3 1127.5 173.5C1131.7 174.7 1135.8 176 1140 177.2C1144.2 178.5 1148.3 179.8 1152.5 181C1156.7 182.2 1160.8 183.4 1165 184.4C1169.1 185.3 1173.3 186.1 1177.5 186.9C1181.6 187.6 1185.8 188.2 1190 188.8C1198.3 189.9 1206.6 191 1215 191.9C1223.3 192.7 1231.7 193.5 1240 194C1248.3 194.5 1256.7 194.7 1265 195C1273.3 195.3 1281.7 195.4 1290 195.6C1298.3 195.8 1306.7 195.9 1315 196.2C1323.3 196.6 1331.7 197 1340 197.5C1348.3 198 1356.7 198.6 1365 199.4C1373.3 200.1 1381.7 201 1390 201.9C1395.4 202.4 1400.8 202.6 1406.1 203.5C1411.5 204.5 1416.8 206.1 1422.1 207.5C1426.4 208.7 1430.6 210.3 1435 211.2C1441.3 212.7 1447.8 213 1454.3 214C1459.6 214.8 1465 215.4 1470.3 216.4C1475.7 217.3 1481 218.5 1486.4 219.6C1491.7 220.7 1497.1 221.7 1502.4 222.8C1507.8 223.9 1513.1 225.1 1518.5 226C1523.8 226.9 1529.2 227.6 1534.6 228.4C1539.9 229.2 1545.3 230.1 1550.6 230.8C1556 231.6 1561.3 232.2 1566.7 232.8C1572 233.3 1577.4 233.8 1582.8 234C1586.5 234.2 1590.3 233.7 1594 234.4C1596.7 234.9 1599.4 236 1602 236.9C1604.2 237.7 1606.2 239 1608.5 239.2C1610 239.3 1611.8 239 1613.3 238.5C1615.3 237.9 1617.2 236.3 1618.9 234.8C1619.7 234.1 1620.5 233.2 1621.3 232.4"/>
<path class="cv" stroke="#37AD6B" d="M202 1053.2C208 1053.2 214 1053.3 220 1053.2C224.2 1053.1 228.4 1053.3 232.6 1052.9C235.3 1052.7 238 1052.4 240.7 1051.9C243.3 1051.4 245.9 1050.7 248.3 1049.7C250.4 1048.8 252.5 1047.8 254.5 1046.6C256.3 1045.5 258.1 1044.3 259.6 1042.8C261 1041.3 262.3 1039.6 263.3 1037.8C264.4 1035.8 265 1033.6 265.8 1031.5C267 1028.4 268.1 1025.3 269 1022.1C269.9 1019 270.5 1015.8 271.2 1012.7C272.1 1008.5 272.7 1004.3 273.4 1000.1C274.1 995.9 274.8 991.8 275.4 987.6C276 983.4 276.5 979.2 277 975C277.5 970 277.9 965 278.3 960C278.8 953.3 279.2 946.7 279.6 940C280.1 931.7 280.5 923.3 281 915C281.6 903.3 282.3 891.7 282.9 880C283.4 870 283.9 860 284.3 850C284.7 840 285.1 830 285.5 820C285.7 813.3 285.9 806.7 286.2 800C286.4 793.3 286.6 786.7 286.9 780C287.1 773.3 287.3 766.7 287.5 760C287.8 753.3 288 746.7 288.2 740C288.4 733.2 288.5 726.3 288.7 719.5C288.9 712.7 289 705.8 289.2 699C289.4 692.2 289.5 685.3 289.7 678.5C289.9 671.7 290 664.8 290.2 658C290.3 651.9 290.5 645.7 290.6 639.6C290.7 633.5 290.8 627.3 291 621.2C291.1 615.1 291.2 608.9 291.3 602.8C291.5 596.7 291.6 590.5 291.7 584.4C291.8 578.3 292 572.1 292.1 566C292.2 558.8 292.3 551.7 292.4 544.5C292.5 537.3 292.6 530.2 292.7 523C292.8 515.8 292.9 508.7 293.1 501.5C293.2 494.3 293.3 487.2 293.4 480C293.5 471.7 293.7 463.3 293.9 455C294 446.7 294.2 438.3 294.4 430C294.6 421.7 294.8 413.3 295 405C295.2 396.7 295.4 388.3 295.6 380C295.8 371.7 296 363.3 296.2 355C296.5 346.7 296.6 338.3 296.9 330C297.1 321.7 297.4 313.3 297.7 305C298 296.7 298.2 288.3 298.5 280C298.9 268.3 299.5 256.7 299.9 245C300.1 240 300.2 235 300.4 230C300.7 221.7 301.3 213.3 301.9 205C302.2 200 302.3 195 302.9 190C303.2 187.2 302.7 183.9 304.1 181.5C304.6 180.8 305.2 179.4 305.8 179.4C306.4 179.3 307 181 307.5 181.9C308.5 183.6 308.6 185.7 309.4 187.5C310.1 189.2 311.2 190.8 311.9 192.5C312.7 194.5 313.2 196.6 313.8 198.8C314.6 202 315 205.4 315.6 208.8C316.2 211.7 316 215 317.5 217.5C318 218.4 318.6 219.9 319.4 220C320.1 220.1 320.9 218.4 321.9 218.1C322.6 217.9 323.7 218.4 324.4 218.1C325.1 217.8 325.7 216.9 326.2 216.2C327.8 214.3 327.6 211.3 328.1 208.8C329 204.6 329.3 200.4 330 196.2C330.7 192.1 331.2 187.8 332.5 183.8C333.3 181.2 334.7 178.8 335.6 176.2C336.8 173 337.9 169.6 338.8 166.2C339.6 162.6 339.8 158.7 340.6 155C341.2 152.5 341.1 149.5 342.5 147.5C343.2 146.6 344 145.7 345 145C345.8 144.5 346.7 144.2 347.5 143.8C348.6 143.1 349.5 141.9 350.6 141.2C351.6 140.7 352.7 140.1 353.8 140C355 139.8 356.3 140.4 357.5 140.6C358.3 140.8 359.3 141.4 360 141.2C360.7 141.1 361.4 140.1 361.9 139.4C362.4 138.6 362.5 137 363.1 136.9C363.6 136.8 364.5 137.4 365 137.8C366.4 138.7 366.6 140.9 367.5 142.5C368.7 144.6 369.8 146.8 371.2 148.8C372.4 150.2 373.5 151.9 375 152.8C376.7 153.8 379.1 153.7 381.2 154C382.9 154.2 384.6 154.6 386.2 154.5C387.5 154.5 388.8 154 390 154C392.1 154 394.2 155.1 396.2 155C398.4 154.9 400.5 154 402.5 153.1C404.7 152.2 406.7 150.7 408.8 149.4C410.9 148 412.8 146.3 415 145C417 143.8 419.2 143 421.2 141.9C423.4 140.7 425.3 139.1 427.5 138.1C429.1 137.4 430.8 136.7 432.5 136.2C434.9 135.6 437.5 135.4 440 135C444.1 134.4 448.3 134.1 452.5 133.8C455 133.5 457.5 133.2 460 133.1C462.5 133 465 133 467.5 133.1C470.8 133.2 474.2 133.5 477.5 134C480 134.4 482.5 135 485 135.6C487.5 136.3 490 137.3 492.5 138.1C495 139 497.5 139.8 500 140.6C502.5 141.4 505 142.2 507.5 142.8C510 143.3 512.5 143.7 515 144C518.3 144.4 521.7 144.6 525 144.8C528.3 144.9 531.7 144.9 535 144.8C538.3 144.6 541.7 144.4 545 144C548.4 143.6 551.7 143 555 142.2C558.4 141.5 561.7 140.6 565 139.8C568.3 138.9 571.7 138 575 137.2C577.5 136.7 580 136 582.5 135.6C585 135.3 587.5 135.1 590 135C594.2 134.9 598.3 135.3 602.5 135.6C606.7 135.9 610.8 136.6 615 136.9C619.2 137.2 623.4 137 627.5 137.5C630 137.8 632.6 138.1 635 138.8C637.6 139.5 639.9 141 642.5 141.9C644.5 142.6 646.7 143.9 648.8 143.8C650.4 143.6 652.1 142.6 653.8 141.9C655 141.3 656.2 140.3 657.5 139.8C659.8 138.7 662.5 138.6 665 138.1C669.1 137.4 673.3 137.3 677.5 136.9C683.7 136.3 690 135.8 696.2 135.2C702.5 134.7 708.8 134.1 715 133.5C719.2 133.1 723.3 132.5 727.5 132.2C731.7 132 735.8 131.8 740 131.8C744.2 131.7 748.3 131.8 752.5 131.9C756.7 132 760.8 132.2 765 132.5C769.2 132.8 773.3 133.1 777.5 133.5C781.7 133.9 785.8 134.3 790 134.6C798.3 135.3 806.7 136 815 136.5C823.3 137 831.7 137.3 840 137.5C848.3 137.7 856.7 137.6 865 137.8C873.3 137.9 881.7 138 890 138.5C898.3 139 906.7 139.8 915 140.6C923.4 141.5 931.7 142.7 940 143.8C948.3 144.8 956.7 145.9 965 146.9C973.3 147.8 981.7 148.6 990 149.5C998.3 150.4 1006.7 151.6 1015 152.5C1023.3 153.4 1031.7 154.2 1040 155C1044.2 155.4 1048.3 156.1 1052.5 156.2C1056.7 156.4 1060.8 155.8 1065 155.6C1069.2 155.4 1073.3 154.9 1077.5 155C1081.7 155.1 1085.8 155.6 1090 156C1098.4 156.8 1106.7 158 1115 159.4C1123.4 160.8 1131.6 162.8 1140 164.4C1148.3 165.9 1156.6 167.6 1165 168.8C1169.2 169.3 1173.3 169.9 1177.5 170.2C1181.7 170.6 1185.9 170.6 1190 171C1198.4 171.8 1206.7 173.9 1215 175.2C1223.3 176.6 1231.7 178 1240 179.4C1248.3 180.8 1256.7 182.2 1265 183.8C1273.3 185.3 1281.7 186.8 1290 188.5C1298.3 190.2 1306.7 191.9 1315 193.8C1323.3 195.6 1331.7 197.5 1340 199.4C1348.3 201.2 1356.7 203 1365 205C1373.4 207 1381.7 209.2 1390 211.2C1395.3 212.6 1400.7 213.7 1406.1 215.1C1411.4 216.5 1416.8 218.2 1422.1 219.6C1427.5 221 1432.8 222.5 1438.2 223.6C1443.5 224.7 1448.9 225.5 1454.3 226.3C1459.6 227.1 1465 227.7 1470.3 228.4C1475.7 229.1 1481 229.9 1486.4 230.5C1491.7 231.1 1497.1 231.7 1502.4 232.1C1507.8 232.6 1513.1 232.9 1518.5 233.2C1523.9 233.6 1529.2 233.8 1534.6 234.4C1539.9 234.9 1545.3 235.7 1550.6 236.5C1556 237.3 1561.3 238.2 1566.7 239.2C1572 240.1 1577.4 241.2 1582.8 242.1C1588.1 243 1593.5 243.7 1598.8 244.5C1606.3 245.6 1613.8 246.5 1621.3 247.5"/>
<path class="cv" stroke="#B177DE" d="M202.5 147.6C203.5 146.9 204.6 146.1 205.6 145.4C208.8 143 211.7 140.2 215 138.1C218.9 135.7 223.3 133.9 227.5 132.1C231.6 130.4 235.8 128.8 240 127.4C244.1 126 248.3 124.9 252.5 123.9C256.6 122.9 260.8 122.1 265 121.5C269.1 120.9 273.3 120.5 277.5 120.1C281.7 119.8 285.8 119.6 290 119.5C292.1 119.5 294.2 119.4 296.2 119.5C298.3 119.6 300.4 119.8 302.5 120C306.7 120.3 310.8 120.6 315 121C319.2 121.4 323.4 121.9 327.5 122.5C331.7 123.1 335.8 124 340 124.8C344.2 125.5 348.3 126.5 352.5 127.2C356.7 128 360.9 128.5 365 129.4C369.2 130.2 373.3 131.4 377.5 132.2C381.6 133.1 385.8 133.8 390 134.5C394.2 135.2 398.4 135.5 402.5 136.2C406.7 137 410.8 138 415 138.8C419.2 139.5 423.3 140.3 427.5 141C431.7 141.7 435.8 142.4 440 142.9C444.2 143.4 448.3 143.7 452.5 144.1C456.7 144.5 460.8 144.9 465 145.2C469.2 145.6 473.3 145.9 477.5 146.2C481.7 146.6 485.8 146.9 490 147.1C494.2 147.4 498.3 147.6 502.5 147.9C506.7 148.1 510.8 148.3 515 148.5C519.2 148.7 523.3 148.9 527.5 149.1C531.7 149.3 535.8 149.5 540 149.6C544.2 149.8 548.3 149.9 552.5 150C556.7 150.1 560.8 150.1 565 150.2C569.2 150.4 573.3 150.5 577.5 150.6C581.7 150.8 585.8 150.9 590 151C594.2 151.1 598.3 151 602.5 151.2C606.7 151.5 610.8 152.1 615 152.5C620.4 153 626 152.5 631.2 153.8C633.4 154.2 635.4 155.2 637.5 155.6C639.5 156.1 641.7 156.2 643.8 156.5C646.2 156.8 648.8 157.9 651.2 157.5C652.5 157.3 653.7 156.7 655 156.2C656.7 155.7 658.3 155.1 660 154.8C663.6 154 667.5 154.6 671.2 154.8C675.4 154.9 679.6 155.3 683.8 155.6C690 156.1 696.2 156.9 702.5 157.5C708.8 158.1 715 158.7 721.2 159.4C727.5 160 733.7 160.8 740 161.5C746.2 162.2 752.5 162.9 758.8 163.5C765 164.1 771.3 164.4 777.5 165C781.7 165.4 785.8 165.9 790 166.2C798.3 167 806.7 167.5 815 168.1C823.3 168.8 831.7 169.6 840 170.2C848.3 170.9 856.7 171.4 865 171.9C873.3 172.4 881.7 172.7 890 173.1C898.3 173.5 906.7 174 915 174.4C923.3 174.8 931.7 175.2 940 175.6C948.3 176 956.7 176.5 965 176.9C973.3 177.3 981.7 177.8 990 178.1C998.3 178.4 1006.7 178.4 1015 178.8C1021.3 179 1027.5 179.5 1033.8 179.6C1037.9 179.7 1042.1 179.8 1046.2 179.8C1052.5 179.7 1058.7 179.1 1065 178.8C1073.3 178.3 1081.7 177.9 1090 177.5C1098.3 177.1 1106.7 176.8 1115 176.5C1123.3 176.2 1131.7 175.9 1140 175.6C1148.3 175.3 1156.7 175 1165 174.8C1173.3 174.5 1181.7 174.6 1190 174.4C1198.3 174.1 1206.7 173.4 1215 173.1C1223.3 172.9 1231.7 172.7 1240 172.8C1248.3 172.8 1256.7 173.2 1265 173.5C1273.3 173.8 1281.7 174.2 1290 174.8C1298.3 175.3 1306.7 176 1315 176.9C1323.4 177.8 1331.7 178.9 1340 180C1348.3 181.1 1356.7 182 1365 183.5C1369.2 184.3 1373.3 185.2 1377.5 186C1381.7 186.8 1385.9 187.3 1390 188.1C1395.4 189.2 1400.7 190.6 1406.1 192C1411.4 193.3 1416.8 194.8 1422.1 196.3C1427.5 197.8 1432.8 199.5 1438.2 201.1C1443.5 202.7 1448.9 204.3 1454.3 205.9C1459.6 207.5 1465 209 1470.3 210.8C1475.7 212.5 1481.1 214.4 1486.4 216.4C1491.8 218.4 1497.1 220.5 1502.4 222.8C1507.8 225.1 1513.2 227.5 1518.5 230C1523.9 232.6 1529.2 235.4 1534.6 238.1C1539.9 240.7 1545.3 243.4 1550.6 246.1C1556 248.8 1561.3 251.4 1566.7 254.1C1572 256.8 1577.4 259.5 1582.8 262.2C1587 264.3 1591.3 266.6 1595.6 268.6C1599.3 270.3 1603.2 271.5 1606.8 273.4C1609.6 274.8 1612.2 276.6 1614.9 278.2C1617 279.5 1619.2 280.9 1621.3 282.2"/>
<path class="cv" stroke="#CC9900" d="M202.5 226.9C203.3 225 204.2 223.1 205 221.2C206.4 218 207.7 214.6 208.8 211.2C210 207.2 211 202.9 211.9 198.8C213.2 192.6 213.7 186.2 215 180C215.9 175.8 217 171.6 218.1 167.5C219.1 164.1 220 160.8 221.2 157.5C222.2 155 222.9 152.2 224.4 150C225.1 148.9 225.8 147.6 226.9 146.9C227.8 146.2 229 145.6 230 145.6C231 145.6 232.2 146.3 233.1 146.9C234.4 147.6 235.4 148.8 236.2 150C237.9 152.1 238.3 155 239.4 157.5C240.8 160.8 242.1 164.3 243.8 167.5C245.3 170.5 246.8 173.5 248.8 176.2C250.3 178.4 251.6 181.1 253.8 182.5C255 183.4 256.7 184.5 258.1 184.4C259.2 184.3 260.4 183.7 261.2 183.1C263.3 181.8 263.7 178.5 265 176.2C266.6 173.3 268.5 170.5 270 167.5C272 163.5 273.3 159.2 275 155C276.7 150.8 278.1 146.6 280 142.5C281.5 139.1 282.7 135.4 285 132.5C286.4 130.7 288 128.7 290 127.5C291.1 126.8 292.5 125.9 293.8 126C295 126.1 296.4 127.3 297.5 128.1C299.7 129.8 300.9 132.7 302.5 135C304.7 138.2 306.4 141.9 308.8 145C310.6 147.4 312.5 150 315 151.9C316.5 153 318.2 154.3 320 154.8C321.2 155 322.5 155.2 323.8 155C325 154.8 326.4 154.4 327.5 153.8C329.5 152.7 331 150.5 332.5 148.8C334.9 146.1 336.7 142.9 338.8 140C340.8 137.1 342.4 133.7 345 131.2C346.5 129.8 348.1 128.4 350 127.5C351.4 126.9 352.9 126.2 354.4 126.2C355.9 126.3 357.4 127.3 358.8 128.1C361.6 129.9 363 133.5 365 136.2C367.3 139.5 368.9 143.1 371.2 146.2C373.2 148.9 375.1 151.6 377.5 153.8C379 155.1 380.6 156.7 382.5 157.5C384 158.2 385.9 159 387.5 158.8C388.3 158.6 389.2 158.2 390 157.8C391.9 156.8 393.5 155.2 395 153.8C396.9 151.9 398.5 149.7 400 147.5C402.1 144.4 403.3 140.8 405 137.5C406.7 134.2 408.3 130.8 410 127.5C411.7 124.2 413.1 120.7 415 117.5C416.5 114.9 417.9 112.1 420 110C421.1 108.8 422.3 107.6 423.8 106.9C424.9 106.3 426.2 105.7 427.5 105.6C429.1 105.5 430.9 106.3 432.5 106.9C434.2 107.5 436 108.4 437.5 109.4C439.3 110.6 440.9 112.2 442.5 113.8C444.7 115.8 446.5 118.1 448.8 120C450.7 121.6 452.7 123.4 455 124.4C456.9 125.2 459.2 125.7 461.2 125.6C463.3 125.6 465.6 124.9 467.5 124C469.8 122.9 471.7 121 473.8 119.4C475.9 117.6 477.8 115.5 480 113.8C482 112.1 484 110.3 486.2 109C487.4 108.3 488.7 107.7 490 107.2C491 106.9 492.1 106.4 493.1 106.5C494.2 106.6 495.3 107.5 496.2 108.1C497.8 109.2 498.9 110.9 500 112.5C501.8 115.1 502.6 118.3 503.8 121.2C505.3 125.3 506.3 129.6 507.5 133.8C508.8 138.3 510 142.9 511.2 147.5C512.5 152.1 513.8 156.7 515 161.2C516.7 167.5 518.2 173.8 520 180C521.6 185.4 523.2 190.9 525 196.2C526.6 200.9 527.9 205.6 530 210C531.5 213 532.8 216.3 535 218.8C536.3 220.2 537.6 221.8 539.4 222.5C540.2 222.8 541.1 223.1 541.9 223.1C542.9 223.1 544.1 222.5 545 221.9C546.6 220.9 547.7 219.1 548.8 217.5C550.3 215.2 551.4 212.6 552.5 210C554.6 205.2 555.9 200 557.5 195C559.3 189.2 560.9 183.4 562.5 177.5C564.3 170.9 565.8 164.2 567.5 157.5C569.2 150.8 570.5 144.1 572.5 137.5C574 132.5 575.3 127.3 577.5 122.5C578.6 120.1 579.4 117.4 581.2 115.6C582.3 114.6 583.6 113.6 585 113.1C585.6 112.9 586.3 112.7 586.9 112.8C588 112.8 589.2 113.6 590 114.4C591.5 115.7 591.8 118.1 592.5 120C593.8 123.6 594.3 127.5 595 131.2C596.1 137.4 596.5 143.7 597.2 150C597.9 156.3 598.5 162.5 599.1 168.8C599.7 175.1 600.4 181.4 601 187.7C601.6 194 602.3 200.2 602.9 206.5C603.4 212.8 604 219.1 604.4 225.4C604.7 230.3 605 235.1 605.3 240C605.7 247.2 605.9 254.4 606.2 261.7C606.5 268.9 606.8 276.1 607.1 283.3C607.4 290.6 607.7 297.8 608 305C608.3 311.3 608.5 317.5 608.8 323.8C609.1 330 609.4 336.2 609.6 342.5C609.9 348.8 610.2 355 610.4 361.2C610.7 367.5 611 373.7 611.2 380C611.5 386.2 611.8 392.5 612 398.8C612.2 405 612.5 411.2 612.8 417.5C613 423.8 613.2 430 613.5 436.2C613.8 442.5 614 448.8 614.2 455C614.5 461.9 614.9 468.9 615.2 475.8C615.5 482.8 615.8 489.7 616.1 496.7C616.4 503.6 616.7 510.6 617 517.5C617.3 524.9 617.7 532.3 618 539.8C618.3 547.2 618.7 554.6 619 562C619.3 568.6 619.5 575.1 619.8 581.7C620 588.2 620.2 594.8 620.5 601.3C620.8 607.9 621 614.4 621.2 621C621.5 627.6 621.8 634.1 622 640.7C622.2 647.2 622.5 653.8 622.8 660.3C623 666.9 623.2 673.4 623.5 680C623.8 686.7 624.2 693.3 624.5 700C624.9 706.7 625.2 713.3 625.6 720C626 726.7 626.3 733.3 626.7 740C627 746.7 627.3 753.3 627.7 760C628.1 766.7 628.6 773.3 629.1 780C629.5 786.7 630 793.3 630.4 800C630.8 806.7 631.3 813.3 631.8 820C632.4 828.3 633.1 836.7 633.8 845C634.7 857.5 635.3 870 636.2 882.5C637.2 895 638.2 907.5 639.5 920C640.5 930 641.6 940 643 950C644.3 959.2 645.7 968.4 647.5 977.5C649 985 650.3 992.6 652.5 1000C654.3 1005.9 656.2 1011.9 658.8 1017.5C660.9 1022.2 663.1 1027.2 666.2 1031.2C668.8 1034.5 671.7 1037.6 675 1040C678 1042.1 681.5 1043.7 685 1045C689.8 1046.9 695 1047.8 700 1048.8C706.6 1050 713.3 1050.6 720 1051.2C730 1052.2 740 1052.3 750 1052.5C758.3 1052.7 766.7 1052.7 775 1052.8C783.3 1052.8 791.7 1053 800 1053C806.7 1053 813.3 1053 820 1053C826.7 1053 833.3 1053 840 1053C846.7 1053 853.3 1053 860 1053C866.7 1053 873.3 1053 880 1053C886.7 1053 893.3 1053.1 900 1053C908.3 1052.9 916.7 1052.6 925 1052C931.7 1051.5 938.5 1051.4 945 1050C949.2 1049.1 953.7 1048.2 957.5 1046.2C961.2 1044.4 964.6 1041.7 967.5 1038.8C970.4 1035.8 972.5 1032.1 975 1028.8C977.1 1025.9 978.7 1022.4 981.2 1020C982.7 1018.6 984.6 1016.2 986.2 1016.2C987.9 1016.2 989.8 1018.6 991.2 1020C994.2 1023 995.2 1027.7 997.5 1031.2C999.8 1034.7 1001.9 1038.6 1005 1041.2C1007.6 1043.4 1010.9 1044.7 1014 1046.2C1015.2 1046.8 1016.3 1047.5 1017.5 1048C1022.1 1050 1027.5 1049.8 1032.5 1050.5C1042.4 1051.8 1052.5 1052.1 1062.5 1052.5C1075 1053 1087.5 1053 1100 1053C1108.3 1053 1116.7 1052.8 1125 1052.8C1133.3 1052.7 1141.7 1052.6 1150 1052.5C1158.3 1052.4 1166.7 1052.1 1175 1051.9C1183.3 1051.7 1191.7 1051.6 1200 1051.2C1208.3 1050.9 1216.7 1050.4 1225 1049.8C1231.7 1049.2 1238.5 1049.1 1245 1047.8C1250.1 1046.7 1255.2 1045.2 1260 1043.2C1264.3 1041.5 1268.8 1039.6 1272.5 1036.8C1276.4 1033.8 1279.7 1029.8 1282.5 1025.8C1285.7 1021.1 1287.8 1015.7 1290 1010.5C1292.5 1004.7 1294.3 998.6 1296.2 992.5C1298.1 986.7 1299.5 980.8 1301.2 975C1302.6 970.4 1303.4 965.6 1305.5 961.2C1306.4 959.3 1307 956.6 1308.8 955.5C1309.5 955 1310.5 954.5 1311.2 954.5C1312.4 954.5 1313.6 956 1314.5 957C1316.9 959.6 1316.9 964 1318 967.5C1319.6 972.5 1320.9 977.5 1322.5 982.5C1324.1 987.5 1325.6 992.6 1327.5 997.5C1329.3 1002.2 1331.3 1006.9 1333.8 1011.2C1336 1015.2 1338.4 1019 1341.2 1022.5C1343.9 1025.7 1346.8 1028.8 1350 1031.2C1353.7 1034.1 1358.1 1036.2 1362.5 1038C1367.3 1039.9 1372.4 1040.9 1377.5 1042C1383.3 1043.2 1389.2 1043.7 1395 1044.5C1402.3 1045.5 1409.6 1046.5 1417 1047C1425.3 1047.6 1433.7 1047.7 1442 1047.8C1450.3 1047.8 1458.7 1047.7 1467 1047.5C1475.3 1047.3 1483.7 1046.8 1492 1046.2C1500.3 1045.7 1508.7 1045.1 1517 1044.2C1525.3 1043.4 1533.7 1042.6 1542 1041.2C1548.7 1040.2 1555.4 1039.2 1562 1037.5C1567.9 1036 1573.8 1034.1 1579.5 1032C1583.7 1030.5 1587.9 1028.9 1592 1027C1595.4 1025.5 1599 1024.1 1602 1022C1604.8 1020.1 1607.2 1017.5 1609.5 1015C1611.3 1013 1612.9 1010.9 1614.5 1008.8C1615.8 1007.1 1617.1 1005.5 1618.2 1003.8C1618.9 1002.8 1619.4 1001.9 1620 1001"/>
<path class="cv" stroke="#00CBCC" d="M203 104.8L760 104.8C763.3 104.8 766.7 104.7 770 104.8C775 104.9 780.1 104.5 785 105.4C786.7 105.7 788.4 106 790 106.5C791.7 107 793.3 107.7 795 108.1C796.2 108.4 797.5 108.4 798.8 108.8C799.8 109.1 800.9 110.1 801.9 110C803 109.9 803.9 108.4 805 108.1C806.2 107.9 807.5 108.3 808.8 108.5C810.4 108.8 812.1 109.8 813.8 109.8C815 109.7 816.3 109.1 817.5 108.8C819.2 108.2 820.8 107.3 822.5 106.9C824.1 106.4 825.8 106.2 827.5 106C831.6 105.4 835.8 105.6 840 105.5C844.2 105.4 848.4 105.1 852.5 105.6C853.8 105.8 855 106 856.3 106.2C858 106.5 859.7 106.6 861.3 107.3C862.6 107.8 864 108.5 865.1 109.5C866.2 110.5 867.2 111.9 867.9 113.2C868.6 114.8 868.8 116.6 869.2 118.3C869.7 121.3 869.6 124.5 869.8 127.7C870 131.9 870.1 136.1 870.2 140.2C870.4 144.4 870.6 148.6 870.7 152.8C871 159.5 871.1 166.3 871.2 173C871.4 179.9 871.4 186.8 871.5 193.7C871.5 200.6 871.6 207.5 871.7 214.3C871.8 221.2 871.8 228.1 871.9 235C872 241.1 872 247.1 872 253.2C872.1 259.3 872.1 265.3 872.1 271.4C872.2 277.5 872.2 283.5 872.3 289.6C872.3 295.7 872.3 301.7 872.4 307.8C872.4 313.9 872.5 319.9 872.5 326C872.5 332.1 872.6 338.1 872.6 344.2C872.7 350.2 872.7 356.3 872.7 362.4C872.8 368.4 872.8 374.5 872.8 380.5C872.9 386.6 872.9 392.7 873 398.7C873 404.8 873 410.8 873.1 416.9C873.1 423 873.1 429 873.2 435.1C873.2 441.2 873.3 447.2 873.3 453.3C873.3 459.3 873.4 465.4 873.4 471.5C873.4 477.5 873.5 483.6 873.5 489.6C873.6 495.7 873.6 501.8 873.6 507.8C873.7 513.9 873.7 519.9 873.8 526C873.8 532.3 873.8 538.7 873.9 545C873.9 551.3 874 557.7 874 564C874.1 570.3 874.1 576.7 874.2 583C874.2 589.3 874.3 595.7 874.3 602L874.3 602L878.5 551L878.3 658L878.3 886L880.3 868L880.8 1054.3L881.6 933L883.3 927L883.7 765L883.2 712L886.3 758L887.1 650L889.5 526L891.2 426L893 326L893 326C893.2 319.2 893.3 312.3 893.5 305.5C893.7 298.7 893.8 291.8 894 285C894.4 272.5 895.1 260 895.6 247.5C895.9 239.2 896.2 230.8 896.5 222.5C896.9 214.2 897.1 205.8 897.5 197.5C897.9 189.3 898.3 181.2 898.7 173C898.9 168.3 899.1 163.7 899.3 159C899.5 154.8 899.6 150.7 899.9 146.5C900.2 143.3 900.3 140.1 900.9 137C901.2 135.3 901.1 133.3 902.1 132C902.5 131.6 902.9 130.8 903.4 130.8C903.9 130.8 904.5 131.4 905 131.8C905.9 132.6 906.4 133.9 907.1 134.9L907.1 134.9L909 131.5L910.6 129.2L911.2 136L911.9 153.4L913.4 146.5L915.9 137.1L916.3 136.8C917.2 134.7 918.2 132.6 919.1 130.5C920.1 128.1 921.2 125.7 922.2 123.3C923.3 120.9 924.3 118.5 925.4 116.1C926.2 114.2 926.7 112.1 927.9 110.4C928.3 109.7 928.9 109.1 929.4 108.5C929.9 108.1 930.5 107.6 931 107.3C931.6 106.9 932.2 106.5 932.9 106.2C933.5 105.9 934.1 105.7 934.8 105.5C935.8 105.2 936.9 105.1 937.9 105C939 104.8 940 104.7 941.1 104.6C943.1 104.4 945.2 104.4 947.3 104.4C949.6 104.4 951.8 104.4 954 104.4C966 104.4 978 105 990 105.2C1002.5 105.4 1015 105.1 1027.5 105.4C1029.4 105.4 1031.4 104.9 1033.1 105.5C1033.9 105.7 1034.6 106.1 1035.2 106.5C1035.8 106.9 1036.3 107.7 1036.9 107.8C1037.6 107.8 1038.3 106.9 1039 106.5C1039.9 106 1040.9 105.7 1041.9 105.4C1044.1 104.7 1046.5 105 1048.8 104.9C1052.5 104.7 1056.2 104.8 1060 104.8C1063.3 104.8 1066.7 104.8 1070 104.8L1620 104.8"/>
</g>
<text class="tk" text-anchor="end" transform="translate(179.3 1067.9) scale(1 1.06)">0.0</text>
<text class="tk" text-anchor="end" transform="translate(179.3 878.2) scale(1 1.06)">0.2</text>
<text class="tk" text-anchor="end" transform="translate(179.3 688.5) scale(1 1.06)">0.4</text>
<text class="tk" text-anchor="end" transform="translate(179.3 498.7) scale(1 1.06)">0.6</text>
<text class="tk" text-anchor="end" transform="translate(179.3 309) scale(1 1.06)">0.8</text>
<text class="tk" text-anchor="end" transform="translate(179.3 119.3) scale(1 1.06)">1.0</text>
<text class="tk" text-anchor="middle" transform="translate(286.7 1209.1) scale(1 1.06)">7</text>
<text class="tk" text-anchor="middle" transform="translate(453.3 1209.1) scale(1 1.06)">8</text>
<text class="tk" text-anchor="middle" transform="translate(619.8 1209.1) scale(1 1.06)">9</text>
<text class="tk" text-anchor="middle" transform="translate(786.4 1209.1) scale(1 1.06)">10</text>
<text class="tk" text-anchor="middle" transform="translate(953 1209.1) scale(1 1.06)">11</text>
<text class="tk" text-anchor="middle" transform="translate(1119.6 1209.1) scale(1 1.06)">12</text>
<text class="tk" text-anchor="middle" transform="translate(1286.1 1209.1) scale(1 1.06)">13</text>
<text class="tk" text-anchor="middle" transform="translate(1452.7 1209.1) scale(1 1.06)">14</text>
<text class="tk" text-anchor="middle" transform="translate(1619.3 1209.1) scale(1 1.06)">15</text>
<text class="ti" x="702.1" y="1303.3">Wavelength(μm))</text>
<text class="ti" transform="translate(51.7 719.3) rotate(-90)">Transmissivity</text>
<path class="lg" stroke="#515151" d="M1274.3 409.8H1406.2"/>
<text class="lt" x="1420.8" y="430.9">Filter 1</text>
<path class="lg" stroke="#F14040" d="M1274.3 482.6H1406.2"/>
<text class="lt" x="1420.8" y="503.6">Filter 2</text>
<path class="lg" stroke="#1A6FDF" d="M1274.3 555.3H1406.2"/>
<text class="lt" x="1420.8" y="576.4">Filter 3</text>
<path class="lg" stroke="#37AD6B" d="M1274.3 628H1406.2"/>
<text class="lt" x="1420.8" y="649.1">Filter 4</text>
<path class="lg" stroke="#B177DE" d="M1274.3 700.8H1406.2"/>
<text class="lt" x="1420.8" y="721.9">Filter 5</text>
<path class="lg" stroke="#CC9900" d="M1274.3 773.5H1406.2"/>
<text class="lt" x="1420.8" y="794.6">Filter 6</text>
<path class="lg" stroke="#00CBCC" d="M1274.3 846.3H1406.2"/>
<text class="lt" x="1420.8" y="867.4">SF</text>
<text transform="translate(1486.9 884.1) scale(1 1.07)" font-size="40px">6</text>
</svg>
</body></html>
